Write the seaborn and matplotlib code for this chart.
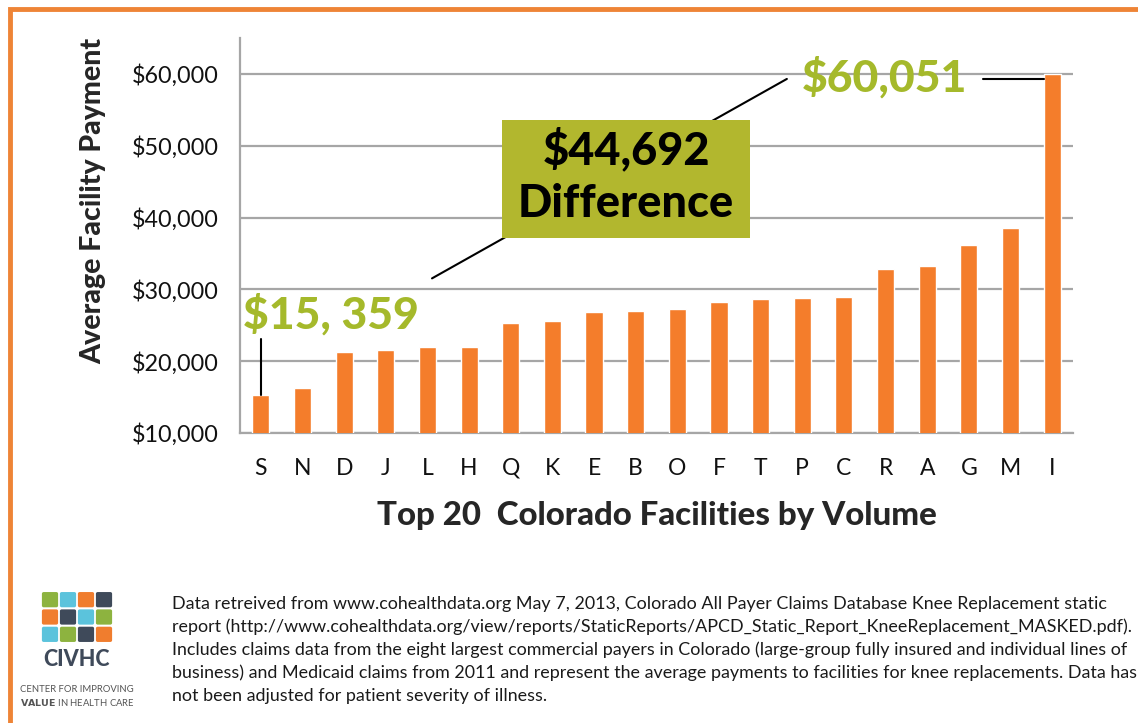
import numpy as np
import pandas as pd
import matplotlib
matplotlib.use("Agg")
import matplotlib.pyplot as plt
import seaborn as sns
from matplotlib.patches import Rectangle, FancyBboxPatch
from matplotlib.ticker import FuncFormatter, FixedLocator

# =========================
# Data
# =========================
facilities = ["S", "N", "D", "J", "L", "H", "Q", "K", "E", "B",
              "O", "F", "T", "P", "C", "R", "A", "G", "M", "I"]
payments = [15359, 16200, 21290, 21570, 22040, 22040, 25320, 25650, 26800, 26990,
            27310, 28240, 28700, 28800, 28890, 32780, 33290, 36150, 38510, 60051]
y_ticks = [10000, 20000, 30000, 40000, 50000, 60000]

footer_lines = [
    "Data retreived from www.cohealthdata.org May 7, 2013, Colorado All Payer Claims Database Knee Replacement static",
    "report (http://www.cohealthdata.org/view/reports/StaticReports/APCD_Static_Report_KneeReplacement_MASKED.pdf).",
    "Includes claims data from the eight largest commercial payers in Colorado (large-group fully insured and individual lines of",
    "business) and Medicaid claims from 2011 and represent the average payments to facilities for knee replacements. Data has",
    "not been adjusted for patient severity of illness.",
]

logo_colors = [
    ["#8DB33F", "#5BC3DC", "#F07D2E", "#3F4A5A"],
    ["#F07D2E", "#3F4A5A", "#5BC3DC", "#8DB33F"],
    ["#5BC3DC", "#8DB33F", "#3F4A5A", "#F07D2E"],
]

df = pd.DataFrame({"facility": facilities, "payment": payments})

ORANGE = "#F47D2B"
GREEN = "#A5B92B"
BOX = "#B2B72E"
GRID = "#A6A6A6"

sns.set_style("white")
plt.rcParams["font.family"] = ["Lato", "DejaVu Sans"]

W, H = 1138, 723
fig = plt.figure(figsize=(W / 100, H / 100), dpi=100)
ax = fig.add_axes([240 / W, 1 - 433 / H, (1073 - 240) / W, (433 - 38) / H])

sns.barplot(data=df, x="facility", y="payment", color=ORANGE, width=0.41,
            saturation=1, ax=ax, zorder=3)

ax.set_ylim(10000, 65000)
ax.set_xlim(-0.5, len(facilities) - 0.5)
ax.set_yticks(y_ticks)
ax.yaxis.set_major_formatter(FuncFormatter(lambda v, p: f"${v:,.0f}"))
ax.grid(axis="y", color=GRID, lw=1.6, zorder=0)
ax.set_axisbelow(True)

for s in ["top", "right"]:
    ax.spines[s].set_visible(False)
for s in ["left", "bottom"]:
    ax.spines[s].set_color(GRID)
    ax.spines[s].set_linewidth(1.6)

# category separators as ticks
ax.xaxis.set_minor_locator(FixedLocator(np.arange(-0.5, len(facilities), 1.0)))
ax.tick_params(axis="x", which="major", length=0, pad=18, labelsize=16.5, labelcolor="#111111")
ax.tick_params(axis="x", which="minor", length=8, width=1.4, color=GRID, direction="out")
ax.tick_params(axis="y", length=8, width=1.4, color=GRID, direction="out", labelsize=16.8,
               pad=7, labelcolor="#111111")

ax.set_xlabel("Top 20  Colorado Facilities by Volume", fontsize=23.8, fontweight="black",
              labelpad=16)
ax.set_ylabel("Average Facility Payment", fontsize=20.5, fontweight="black")
ax.yaxis.set_label_coords(-0.16, 0.587)

# =========================
# Annotations
# =========================
lo, hi = payments[0], payments[-1]

ax.text(-0.43, 24600, f"${lo // 1000}, {lo % 1000}", color=GREEN, fontsize=32,
        fontweight="black", ha="left", va="baseline", zorder=5)
ax.plot([0, 0], [lo, 23050], color="black", lw=1.5, zorder=5)

ax.text(13.0, 57500, f"${hi:,}", color=GREEN, fontsize=32,
        fontweight="black", ha="left", va="baseline", zorder=5)
ax.plot([17.35, 19 - 0.205], [59300, 59300], color="black", lw=1.5, zorder=5)

ax.plot([4.11, 12.63], [31530, 59300], color="black", lw=1.5, zorder=4)
ax.add_patch(Rectangle((5.79, 37220), 11.745 - 5.79, 53610 - 37220,
                       facecolor=BOX, edgecolor="none", zorder=6))
ax.text((5.79 + 11.745) / 2, (37220 + 53610) / 2 + 300,
        f"${hi - lo:,}\nDifference", ha="center", va="center", fontsize=32.5,
        fontweight="black", color="black", linespacing=1.3, zorder=7)

# =========================
# Footer
# =========================
for i, line in enumerate(footer_lines):
    fig.text(172 / W, 1 - (604 + 23 * i) / H, line, fontsize=12.85,
             color="#1a1a1a", va="center", ha="left")

lax = fig.add_axes([41 / W, 1 - 643 / H, 72 / W, 52 / H])
lax.set_xlim(0, 4)
lax.set_ylim(0, 3)
lax.axis("off")
for r, row in enumerate(logo_colors):
    for c, col in enumerate(row):
        lax.add_patch(FancyBboxPatch((c + 0.05, 2 - r + 0.06), 0.9, 0.88,
                                     boxstyle="round,pad=0,rounding_size=0.1",
                                     facecolor=col, edgecolor="none"))
fig.text(77 / W, 1 - 659 / H, "CIVHC", fontsize=15.5, fontweight="black",
         color="#3F4A5A", ha="center", va="center")
fig.text(77 / W, 1 - 690 / H, "CENTER FOR IMPROVING", fontsize=6.8,
         color="#555555", ha="center", va="center")
fig.text(77 / W, 1 - 703 / H, r"$\bf{VALUE}$ IN HEALTH CARE", fontsize=6.8,
         color="#555555", ha="center", va="center")

# orange frame (top and left edges visible)
fig.add_artist(Rectangle((10 / W, -0.05), 1.1, 1 - 9 / H + 0.05,
                         transform=fig.transFigure, fill=False,
                         edgecolor="#EE8436", lw=3.5, clip_on=False))

fig.savefig("out.png", dpi=100)
